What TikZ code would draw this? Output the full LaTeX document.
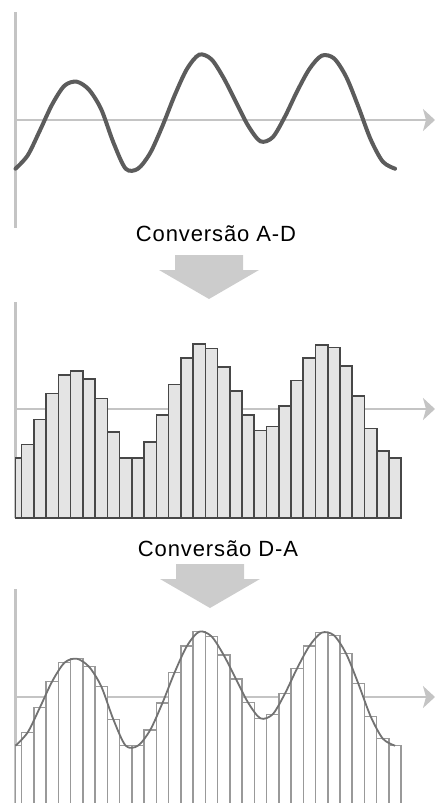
\documentclass[tikz,border=0pt]{standalone}
\usepackage{fontspec}
\newfontfamily\convfont[LetterSpace=4]{Liberation Sans}
\usetikzlibrary{arrows.meta}

\definecolor{axisgrey}{HTML}{C4C4C4}
\definecolor{wavegrey}{HTML}{5C5C5C}
\definecolor{barfill}{HTML}{E4E4E4}
\definecolor{bargrey}{HTML}{474747}
\definecolor{stepgrey}{HTML}{999999}
\definecolor{curvegrey}{HTML}{727272}
\definecolor{arrowgrey}{HTML}{CCCCCC}

% one level per sample, measured up from the time axis
\newcommand{\levels}{-48.7,-35.3,-10.3,15.7,34.3,38.3,30.3,10.7,-22.7,-48.7,-48.7,-33,-6,24.7,51,65.3,60.7,42,18,-5.7,-21.3,-17.3,3.3,28.7,51,64.3,61.7,43.3,13.3,-19.3,-41.7,-48.7}
\newcommand{\barw}{12.245}

% broad arrow pointing down, #1 is the middle of its top edge
\newcommand{\convarrow}[1]{%
  \fill[arrowgrey, shift={(#1)}] (-34,0) -- (34,0) -- (34,15) -- (50,15)
    -- (0,44) -- (-50,15) -- (-34,15) -- cycle;}

\tikzset{
  axisline/.style={draw=axisgrey, line width=2.6pt},
  timeaxis/.style={axisline, -{Stealth[length=12pt, width=22pt, inset=3pt]}},
  wave/.style={draw=wavegrey, line width=4pt, line cap=round},
  digbar/.style={fill=barfill, draw=bargrey, line width=1.6pt},
  stepbar/.style={fill=white, draw=stepgrey, line width=1.5pt},
  recon/.style={draw=curvegrey, line width=1.8pt},
  convlabel/.style={font=\convfont\fontsize{22}{26}\selectfont, inner sep=0pt},
}

\begin{document}
\begin{tikzpicture}[x=1pt, y=-1pt]
\useasboundingbox (0,0) rectangle (436,803);

% sample points, shared by the three plots
\def\pts{}
\foreach \v [count=\i from 0] in \levels {
  \pgfmathsetmacro{\px}{\i*\barw}
  \xdef\pts{\pts (\px,\v)}
}

% analogue input
\coordinate (A) at (15.5,120);
\draw[axisline] (15.5,12) -- (15.5,228);
\draw[timeaxis] (A) -- (435,120);
\begin{scope}[shift={(A)}, yscale=-1]
  \edef\wavecmd{\noexpand\draw[wave] plot[smooth] coordinates {\pts};}
  \wavecmd
\end{scope}

\node[convlabel, anchor=base] (adlabel) at (216,241) {Conversão A-D};
\convarrow{[shift={(-7,14)}]adlabel.base}

% digital samples
\coordinate (D) at (15.5,409);
\draw[axisline] (15.5,302) -- (15.5,518);
\draw[timeaxis] (D) -- (435,409);
\begin{scope}[shift={(D)}, yscale=-1]
  \foreach \v [count=\i from 0] in \levels {
    \pgfmathsetmacro{\xl}{max(0,(\i-0.5)*\barw)}
    \pgfmathsetmacro{\xr}{(\i+0.5)*\barw}
    \filldraw[digbar] (\xl,-109) rectangle (\xr,\v);
  }
  \draw[bargrey, line width=2pt] (0,-109) -- (31.5*\barw,-109);
\end{scope}

\node[convlabel, anchor=base] (dalabel) at (218,556) {Conversão D-A};
\convarrow{[shift={(-8,8)}]dalabel.base}

% rebuilt analogue output
\coordinate (R) at (15.5,697);
\draw[axisline] (15.5,589) -- (15.5,803);
\draw[timeaxis] (R) -- (435,697);
\begin{scope}[shift={(R)}, yscale=-1]
  \foreach \v [count=\i from 0] in \levels {
    \pgfmathsetmacro{\xl}{max(0,(\i-0.5)*\barw)}
    \pgfmathsetmacro{\xr}{(\i+0.5)*\barw}
    \filldraw[stepbar] (\xl,-112) rectangle (\xr,\v);
  }
  \edef\wavecmd{\noexpand\draw[recon] plot[smooth] coordinates {\pts};}
  \wavecmd
\end{scope}
\end{tikzpicture}
\end{document}
